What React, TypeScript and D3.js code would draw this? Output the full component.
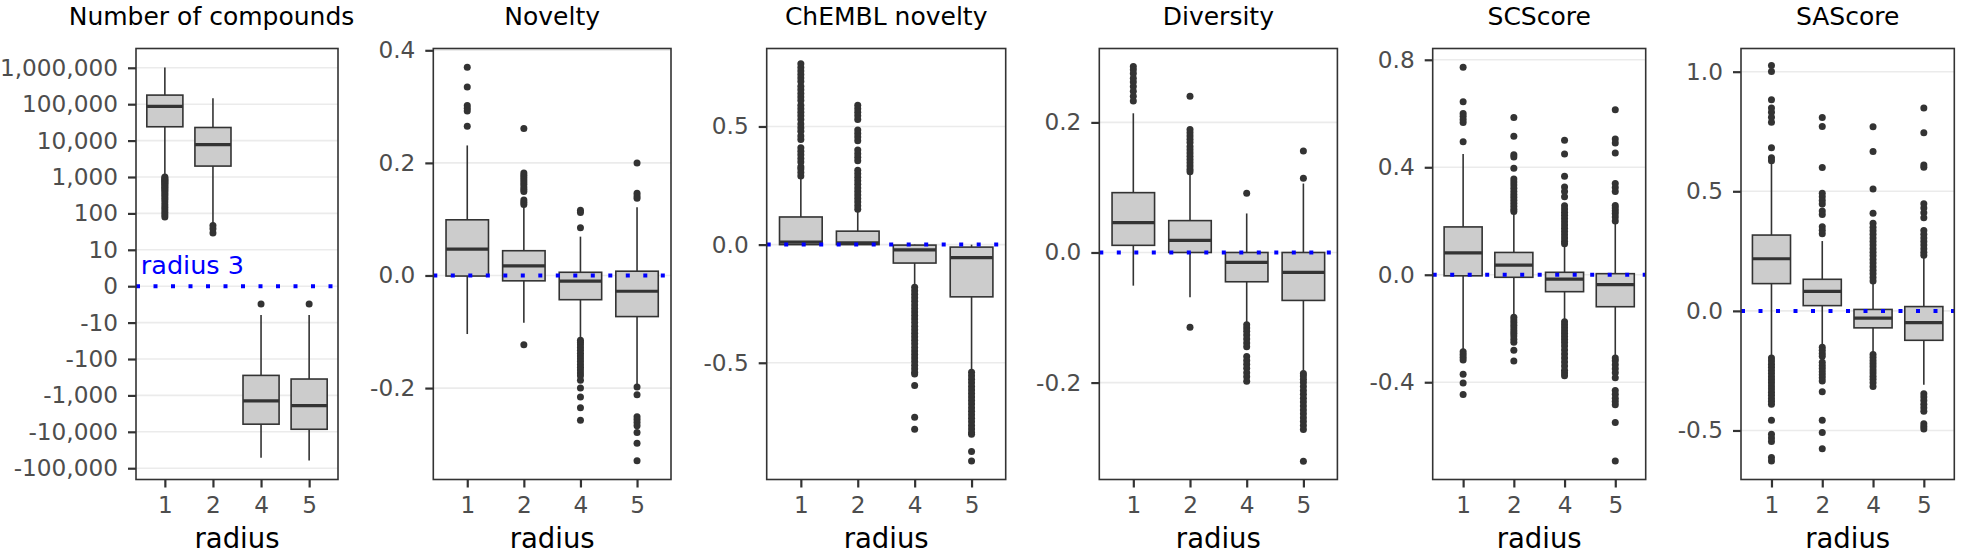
import React, { useEffect, useRef } from 'react';
import * as d3 from 'd3';

const radii = ['1', '2', '4', '5'];

// five numbers per radius: [lower whisker, q1, median, q3, upper whisker]
// number of compounds is on a signed log10 scale
const compoundStats = [
  [3.04, 4.38, 4.94, 5.25, 6.01],
  [1.73, 3.3, 3.89, 4.36, 5.16],
  [-4.71, -3.79, -3.15, -2.45, -0.79],
  [-4.79, -3.93, -3.28, -2.55, -0.79],
];
const compoundOutliers = [
  [3.0, 2.97, 2.94, 2.91, 2.88, 2.85, 2.82, 2.79, 2.75, 2.72, 2.68, 2.64, 2.6, 2.55, 2.5, 2.44, 2.38, 2.31, 2.24, 2.17, 2.1, 2.03, 1.96, 1.9],
  [1.67, 1.58, 1.46],
  [-0.49],
  [-0.49],
];
const compoundTicks = [-5, -4, -3, -2, -1, 0, 1, 2, 3, 4, 5, 6];
const compoundTickLabels = ['-100,000', '-10,000', '-1,000', '-100', '-10', '0', '10', '100', '1,000', '10,000', '100,000', '1,000,000'];

const noveltyStats = [
  [-0.104, -0.001, 0.0467, 0.0989, 0.231],
  [-0.084, -0.0095, 0.017, 0.044, 0.127],
  [-0.112, -0.043, -0.01, 0.0057, 0.069],
  [-0.197, -0.073, -0.028, 0.0076, 0.121],
];
const noveltyOutliers = [
  [0.37, 0.335, 0.302, 0.297, 0.292, 0.265],
  [0.261, 0.182, 0.178, 0.174, 0.17, 0.166, 0.162, 0.157, 0.153, 0.149, 0.134, 0.13, 0.126, -0.123],
  [0.116, 0.112, 0.085, -0.115, -0.119, -0.123, -0.128, -0.133, -0.138, -0.143, -0.148, -0.153, -0.158, -0.163, -0.168, -0.173, -0.178, -0.186, -0.2, -0.216, -0.235, -0.257],
  [0.2, 0.146, 0.141, 0.137, -0.198, -0.212, -0.251, -0.256, -0.261, -0.267, -0.279, -0.298, -0.329],
];
const noveltyTicks = [-0.2, 0, 0.2, 0.4];
const noveltyTickLabels = ['-0.2', '0.0', '0.2', '0.4'];

const chemblStats = [
  [0, 0, 0.0105, 0.117, 0.285],
  [0, 0, 0.0075, 0.057, 0.146],
  [-0.177, -0.078, -0.0225, -0.002, 0],
  [-0.533, -0.221, -0.055, -0.0105, 0],
];
const chemblOutliers = [
  [0.29, 0.305, 0.32, 0.33, 0.35, 0.365, 0.38, 0.395, 0.41, 0.445, 0.46, 0.48, 0.495, 0.51, 0.53, 0.545, 0.56, 0.575, 0.59, 0.61, 0.625, 0.64, 0.655, 0.67, 0.69, 0.705, 0.72, 0.735, 0.75, 0.765],
  [0.15, 0.165, 0.18, 0.195, 0.21, 0.225, 0.24, 0.255, 0.27, 0.285, 0.3, 0.315, 0.355, 0.37, 0.385, 0.4, 0.44, 0.455, 0.47, 0.485, 0.53, 0.545, 0.56, 0.575, 0.59],
  [-0.18, -0.195, -0.21, -0.225, -0.24, -0.255, -0.27, -0.285, -0.3, -0.315, -0.33, -0.345, -0.36, -0.375, -0.39, -0.405, -0.42, -0.435, -0.45, -0.465, -0.48, -0.495, -0.51, -0.525, -0.54, -0.548, -0.596, -0.731, -0.781],
  [-0.54, -0.555, -0.57, -0.585, -0.6, -0.615, -0.63, -0.645, -0.66, -0.675, -0.69, -0.705, -0.72, -0.735, -0.75, -0.765, -0.78, -0.795, -0.803, -0.875, -0.916],
];
const chemblTicks = [-0.5, 0, 0.5];
const chemblTickLabels = ['-0.5', '0.0', '0.5'];

const diversityStats = [
  [-0.051, 0.011, 0.0458, 0.092, 0.214],
  [-0.069, 0, 0.0185, 0.049, 0.121],
  [-0.108, -0.045, -0.0153, 0, 0.06],
  [-0.183, -0.0737, -0.0306, 0, 0.106],
];
const diversityOutliers = [
  [0.286, 0.281, 0.275, 0.268, 0.262, 0.255, 0.248, 0.24, 0.233],
  [0.24, 0.189, 0.184, 0.179, 0.174, 0.169, 0.163, 0.158, 0.153, 0.148, 0.143, 0.138, 0.133, 0.128, 0.124, -0.115],
  [0.091, -0.111, -0.116, -0.121, -0.127, -0.133, -0.139, -0.145, -0.16, -0.166, -0.172, -0.178, -0.185, -0.191, -0.198],
  [0.156, 0.114, -0.186, -0.19, -0.195, -0.2, -0.206, -0.212, -0.218, -0.224, -0.23, -0.236, -0.242, -0.248, -0.254, -0.26, -0.266, -0.272, -0.321],
];
const diversityTicks = [-0.2, 0, 0.2];
const diversityTickLabels = ['-0.2', '0.0', '0.2'];

const scscoreStats = [
  [-0.284, -0.004, 0.0817, 0.178, 0.449],
  [-0.152, -0.0095, 0.0356, 0.083, 0.231],
  [-0.172, -0.063, -0.016, 0.0091, 0.112],
  [-0.304, -0.119, -0.037, 0.004, 0.191],
];
const scscoreOutliers = [
  [0.772, 0.644, 0.6, 0.59, 0.578, 0.567, 0.495, -0.287, -0.297, -0.307, -0.317, -0.37, -0.403, -0.446],
  [0.585, 0.515, 0.447, 0.438, 0.396, 0.356, 0.345, 0.334, 0.322, 0.31, 0.299, 0.288, 0.277, 0.266, 0.255, 0.244, 0.235, -0.158, -0.168, -0.178, -0.188, -0.198, -0.208, -0.218, -0.228, -0.24, -0.251, -0.281, -0.321],
  [0.501, 0.449, 0.367, 0.327, 0.31, 0.29, 0.257, 0.245, 0.233, 0.221, 0.209, 0.197, 0.185, 0.173, 0.161, 0.149, 0.137, 0.125, 0.115, -0.175, -0.186, -0.197, -0.208, -0.219, -0.23, -0.241, -0.252, -0.265, -0.28, -0.295, -0.31, -0.325, -0.34, -0.355, -0.366, -0.376],
  [0.614, 0.505, 0.49, 0.453, 0.34, 0.325, 0.31, 0.258, 0.248, 0.238, 0.228, 0.215, 0.2, -0.31, -0.32, -0.335, -0.35, -0.365, -0.383, -0.431, -0.445, -0.46, -0.472, -0.484, -0.55, -0.693],
];
const scscoreTicks = [-0.4, 0, 0.4, 0.8];
const scscoreTickLabels = ['-0.4', '0.0', '0.4', '0.8'];

const sascoreStats = [
  [-0.19, 0.114, 0.218, 0.317, 0.615],
  [-0.145, 0.022, 0.0814, 0.132, 0.292],
  [-0.175, -0.071, -0.03, 0.006, 0.114],
  [-0.309, -0.123, -0.049, 0.018, 0.225],
];
const sascoreOutliers = [
  [1.026, 1.001, 0.883, 0.848, 0.83, 0.81, 0.789, 0.682, 0.64, 0.628, -0.197, -0.21, -0.223, -0.236, -0.249, -0.262, -0.275, -0.288, -0.301, -0.314, -0.327, -0.34, -0.353, -0.366, -0.378, -0.39, -0.457, -0.516, -0.531, -0.546, -0.613, -0.628],
  [0.808, 0.771, 0.599, 0.492, 0.477, 0.462, 0.447, 0.418, 0.403, 0.352, 0.337, 0.322, -0.152, -0.165, -0.178, -0.19, -0.215, -0.228, -0.241, -0.254, -0.267, -0.28, -0.293, -0.338, -0.457, -0.509, -0.576],
  [0.77, 0.666, 0.51, 0.408, 0.366, 0.35, 0.335, 0.32, 0.305, 0.29, 0.275, 0.26, 0.245, 0.23, 0.215, 0.2, 0.185, 0.17, 0.155, 0.14, 0.125, -0.182, -0.195, -0.208, -0.221, -0.234, -0.247, -0.26, -0.273, -0.286, -0.3, -0.316],
  [0.848, 0.745, 0.61, 0.6, 0.448, 0.43, 0.41, 0.389, 0.336, 0.32, 0.305, 0.29, 0.275, 0.26, 0.245, 0.233, -0.346, -0.36, -0.375, -0.39, -0.405, -0.42, -0.472, -0.483, -0.494],
];
const sascoreTicks = [-0.5, 0, 0.5, 1];
const sascoreTickLabels = ['-0.5', '0.0', '0.5', '1.0'];

const panels = [
  { title: 'Number of compounds', stats: compoundStats, outliers: compoundOutliers, ticks: compoundTicks, labels: compoundTickLabels, domain: [-5.31, 6.53], left: 136, right: 338, titleX: 211.5 },
  { title: 'Novelty', stats: noveltyStats, outliers: noveltyOutliers, ticks: noveltyTicks, labels: noveltyTickLabels, domain: [-0.3624, 0.4032], left: 433.3, right: 671 },
  { title: 'ChEMBL novelty', stats: chemblStats, outliers: chemblOutliers, ticks: chemblTicks, labels: chemblTickLabels, domain: [-0.994, 0.83], left: 766.7, right: 1005.7 },
  { title: 'Diversity', stats: diversityStats, outliers: diversityOutliers, ticks: diversityTicks, labels: diversityTickLabels, domain: [-0.349, 0.3136], left: 1099.3, right: 1337.4 },
  { title: 'SCScore', stats: scscoreStats, outliers: scscoreOutliers, ticks: scscoreTicks, labels: scscoreTickLabels, domain: [-0.762, 0.842], left: 1432.7, right: 1645.7 },
  { title: 'SAScore', stats: sascoreStats, outliers: sascoreOutliers, ticks: sascoreTicks, labels: sascoreTickLabels, domain: [-0.705, 1.097], left: 1741, right: 1954.3 },
];

const W = 1961;
const H = 556;
const top = 48.5;
const bottom = 479.5;
const font = 'DejaVu Sans, Liberation Sans, sans-serif';
const dark = '#333333';

const App = () => {
  const ref = useRef<SVGSVGElement>(null);

  useEffect(() => {
    const svg = d3.select(ref.current);
    svg.selectAll('*').remove();

    panels.forEach((p, pi) => {
      const x = d3.scalePoint<string>().domain(radii).range([p.left, p.right]).padding(0.6);
      const y = d3.scaleLinear().domain(p.domain).range([bottom, top]);
      const bw = x.step() * 0.75;
      const g = svg.append('g');

      // gridlines
      g.selectAll('line.grid')
        .data(p.ticks)
        .join('line')
        .attr('x1', p.left).attr('x2', p.right)
        .attr('y1', d => y(d)).attr('y2', d => y(d))
        .attr('stroke', '#EBEBEB').attr('stroke-width', 1.6);

      // outliers
      p.outliers.forEach((vals, i) => {
        g.selectAll(null)
          .data(vals)
          .join('circle')
          .attr('cx', x(radii[i]) as number)
          .attr('cy', d => y(d))
          .attr('r', 3.5)
          .attr('fill', dark);
      });

      // whiskers
      p.stats.forEach((s, i) => {
        const cx = x(radii[i]) as number;
        g.append('line').attr('x1', cx).attr('x2', cx).attr('y1', y(s[3])).attr('y2', y(s[4]))
          .attr('stroke', dark).attr('stroke-width', 1.6);
        g.append('line').attr('x1', cx).attr('x2', cx).attr('y1', y(s[1])).attr('y2', y(s[0]))
          .attr('stroke', dark).attr('stroke-width', 1.6);
      });

      // boxes
      g.selectAll('rect.box')
        .data(p.stats)
        .join('rect')
        .attr('x', (d, i) => (x(radii[i]) as number) - bw / 2)
        .attr('width', bw)
        .attr('y', d => y(d[3]))
        .attr('height', d => Math.max(0, y(d[1]) - y(d[3])))
        .attr('fill', '#CCCCCC')
        .attr('stroke', dark)
        .attr('stroke-width', 1.6);

      // medians
      g.selectAll('line.median')
        .data(p.stats)
        .join('line')
        .attr('x1', (d, i) => (x(radii[i]) as number) - bw / 2)
        .attr('x2', (d, i) => (x(radii[i]) as number) + bw / 2)
        .attr('y1', d => y(d[2])).attr('y2', d => y(d[2]))
        .attr('stroke', dark).attr('stroke-width', 3.2);

      // reference line: radius 3
      g.append('line')
        .attr('x1', p.left).attr('x2', p.right)
        .attr('y1', y(0)).attr('y2', y(0))
        .attr('stroke', '#0000FF').attr('stroke-width', 4)
        .attr('stroke-dasharray', '4 13.5');

      if (pi === 0) {
        g.append('text')
          .attr('x', p.left + 0.1 * x.step())
          .attr('y', y(0.33))
          .attr('fill', '#0000FF')
          .attr('font-family', font)
          .attr('font-size', 25.5)
          .text('radius 3');
      }

      // panel border
      g.append('rect')
        .attr('x', p.left).attr('y', top)
        .attr('width', p.right - p.left).attr('height', bottom - top)
        .attr('fill', 'none').attr('stroke', dark).attr('stroke-width', 1.6);

      // axes
      const yAxis = g.append('g')
        .attr('transform', `translate(${p.left},0)`)
        .call(d3.axisLeft(y).tickValues(p.ticks).tickFormat((d, i) => p.labels[i]).tickSize(8).tickPadding(10));
      const xAxis = g.append('g')
        .attr('transform', `translate(0,${bottom})`)
        .call(d3.axisBottom(x).tickSize(8).tickPadding(9));
      [yAxis, xAxis].forEach(a => {
        a.select('.domain').remove();
        a.attr('font-family', font).attr('font-size', 23.2);
        a.selectAll('line').attr('stroke', dark).attr('stroke-width', 2.2);
        a.selectAll('text').attr('fill', '#4D4D4D');
      });

      // titles
      g.append('text')
        .attr('x', p.titleX ?? (p.left + p.right) / 2)
        .attr('y', 25)
        .attr('text-anchor', 'middle')
        .attr('font-family', font)
        .attr('font-size', 25)
        .attr('fill', '#000')
        .text(p.title);

      g.append('text')
        .attr('x', (p.left + p.right) / 2)
        .attr('y', 548.3)
        .attr('text-anchor', 'middle')
        .attr('font-family', font)
        .attr('font-size', 27.5)
        .attr('fill', '#000')
        .text('radius');
    });
  }, []);

  return (
    <svg
      ref={ref}
      width={W}
      height={H}
      style={{ position: 'absolute', left: 0, top: 0, background: '#fff' }}
    />
  );
};

export default App;
